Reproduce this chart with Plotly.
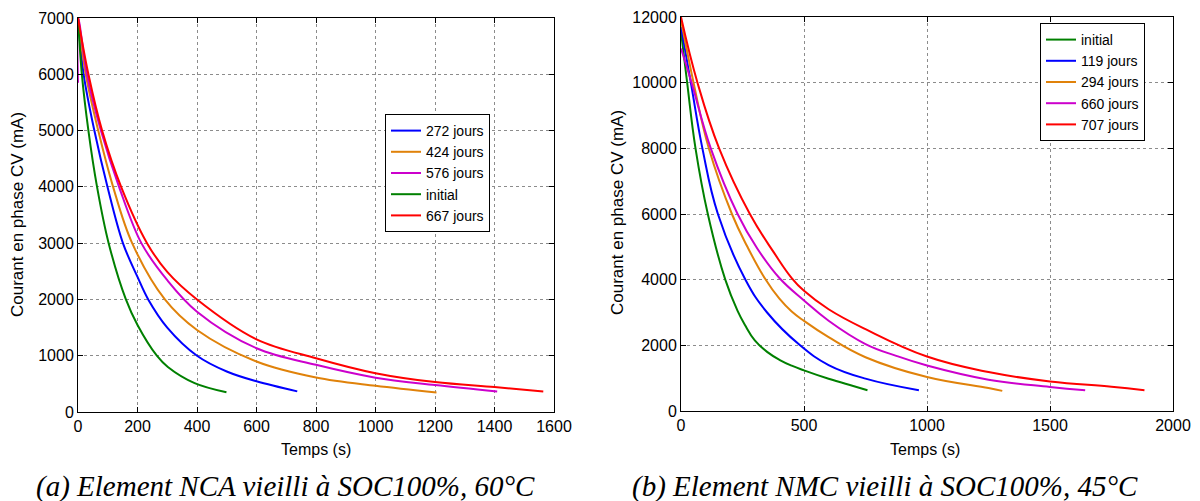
import plotly.graph_objects as go

# ---- data ----
# (a) NCA, 60°C
nca_names = ['272 jours', '424 jours', '576 jours', 'initial', '667 jours']
nca_t_272 = [0, 19, 55, 99, 151, 200, 236, 300, 400, 500, 600, 737]
nca_i_272 = [7000, 6000, 5000, 4000, 3000, 2400, 2000, 1500, 1000, 720, 545, 366]
nca_t_424 = [0, 26, 68, 118, 182, 292, 400, 600, 800, 1000, 1205]
nca_i_424 = [7000, 6000, 5000, 4000, 3000, 2000, 1457, 897, 614, 466, 348]
nca_t_576 = [0, 0.5, 30, 77, 138, 213, 300, 400, 600, 800, 1000, 1200, 1409]
nca_i_576 = [5850, 7000, 6000, 5000, 4000, 3000, 2342, 1782, 1133, 838, 610, 480, 366]
nca_t_init = [0, 13, 35, 64, 103, 161, 200, 265, 302, 392, 499]
nca_i_init = [7000, 6000, 5000, 4000, 3000, 2000, 1546, 1000, 800, 513, 350]
nca_t_667 = [0, 35, 81, 145, 232, 300, 400, 600, 800, 1000, 1200, 1400, 1564]
nca_i_667 = [7000, 6000, 5000, 4000, 3000, 2490, 2000, 1292, 956, 690, 531, 442, 366]

# (b) NMC, 45°C
nmc_names = ['initial', '119 jours', '294 jours', '660 jours', '707 jours']
nmc_t_init = [0, 25, 59, 109, 180, 230, 260, 300, 350, 400, 450, 500, 600, 700, 758]
nmc_i_init = [11550, 10000, 8000, 6000, 4000, 3050, 2620, 2150, 1800, 1560, 1380, 1236, 980, 760, 633]
nmc_t_119 = [0, 40, 87, 150, 262, 350, 484, 600, 750, 967]
nmc_i_119 = [11700, 10000, 8000, 6000, 4000, 3000, 2000, 1400, 985, 633]
nmc_t_294 = [0, 51, 113, 207, 270, 340, 400, 450, 500, 600, 750, 1000, 1250, 1306]
nmc_i_294 = [11900, 10000, 8000, 6000, 5000, 4050, 3420, 3030, 2744, 2250, 1638, 1035, 700, 613]
nmc_t_660 = [0, 43, 121, 230, 310, 400, 500, 600, 750, 875, 1000, 1250, 1500, 1643]
nmc_i_660 = [11040, 10000, 8000, 6000, 4950, 4050, 3367, 2750, 2040, 1680, 1387, 955, 734, 633]
nmc_t_707 = [0, 67, 155, 280, 380, 450, 500, 600, 750, 1000, 1250, 1500, 1750, 1884]
nmc_i_707 = [12000, 10000, 8000, 6000, 4800, 4050, 3660, 3100, 2492, 1658, 1186, 900, 740, 633]

c_green = '#008000'
c_blue = '#0000FF'
c_orange = '#E0820A'
c_magenta = '#CC00CC'
c_red = '#FF0000'

# the page body has an 8 px margin, so the plot div starts at (8, 8)
OFF = 8
W, H = 1200 - OFF, 501 - OFF


def px(x):
    return (x - OFF) / W


def py(y):
    return 1 - (y - OFF) / H


fig = go.Figure()

nca_series = [(nca_t_272, nca_i_272, c_blue), (nca_t_424, nca_i_424, c_orange),
              (nca_t_576, nca_i_576, c_magenta), (nca_t_init, nca_i_init, c_green),
              (nca_t_667, nca_i_667, c_red)]
for name, (t, i, col) in zip(nca_names, nca_series):
    fig.add_trace(go.Scatter(x=t, y=i, mode='lines', name=name,
                             line=dict(color=col, width=2, shape='spline', smoothing=1.0),
                             xaxis='x', yaxis='y', legend='legend'))

nmc_series = [(nmc_t_init, nmc_i_init, c_green), (nmc_t_119, nmc_i_119, c_blue),
              (nmc_t_294, nmc_i_294, c_orange), (nmc_t_660, nmc_i_660, c_magenta),
              (nmc_t_707, nmc_i_707, c_red)]
for name, (t, i, col) in zip(nmc_names, nmc_series):
    fig.add_trace(go.Scatter(x=t, y=i, mode='lines', name=name,
                             line=dict(color=col, width=2, shape='spline', smoothing=1.2),
                             xaxis='x2', yaxis='y2', legend='legend2'))

axis_style = dict(showline=True, linecolor='black', linewidth=1, mirror='ticks',
                  ticks='inside', ticklen=5, tickcolor='black', automargin=False,
                  showgrid=True, gridcolor='#8c8c8c', griddash='dot', gridwidth=1,
                  zeroline=False, tickformat='d', ticklabeloverflow='allow',
                  tickfont=dict(family='Liberation Sans', size=16, color='black'))

legend_style = dict(xanchor='left', yanchor='top', bgcolor='white',
                    bordercolor='black', borderwidth=1, tracegroupgap=0,
                    font=dict(family='Liberation Sans', size=14, color='black'))

fig.update_layout(
    width=W, height=H,
    margin=dict(l=0, r=0, t=0, b=0, autoexpand=False),
    paper_bgcolor='white', plot_bgcolor='white',
    xaxis=dict(domain=[px(78), px(554)], range=[0, 1600], dtick=200, anchor='y', **axis_style),
    yaxis=dict(domain=[py(412), py(18)], range=[0, 7000], dtick=1000, anchor='x', **axis_style),
    xaxis2=dict(domain=[px(681), px(1173)], range=[0, 2000], dtick=500, anchor='y2', **axis_style),
    yaxis2=dict(domain=[py(411), py(17)], range=[0, 12000], dtick=2000, anchor='x2', **axis_style),
    legend=dict(x=px(385), y=py(114), **legend_style),
    legend2=dict(x=px(1040), y=py(23), **legend_style),
    showlegend=True,
)

title_font = dict(family='Liberation Sans', size=16, color='black')
# axis titles
for xc in (316, 925):
    fig.add_annotation(text='Temps (s)', xref='paper', yref='paper',
                       x=px(xc), y=py(449), xanchor='center', yanchor='middle',
                       showarrow=False, font=title_font)
for xc, yc in ((18, 215), (617, 213)):
    fig.add_annotation(text='Courant en phase CV (mA)', xref='paper', yref='paper',
                       x=px(xc), y=py(yc), xanchor='center', yanchor='middle',
                       textangle=-90, showarrow=False,
                       font=dict(family='Liberation Sans', size=17, color='black'))

caption_font = dict(family='Liberation Serif', size=29, color='black', style='italic')
fig.add_annotation(text='(a) Element NCA vieilli à SOC100%, 60°C', xref='paper', yref='paper',
                   x=px(285), y=py(486), xanchor='center', yanchor='middle',
                   showarrow=False, font=caption_font)
fig.add_annotation(text='(b) Element NMC vieilli à SOC100%, 45°C', xref='paper', yref='paper',
                   x=px(885), y=py(486), xanchor='center', yanchor='middle',
                   showarrow=False, font=caption_font)

fig.write_html("out.html")
